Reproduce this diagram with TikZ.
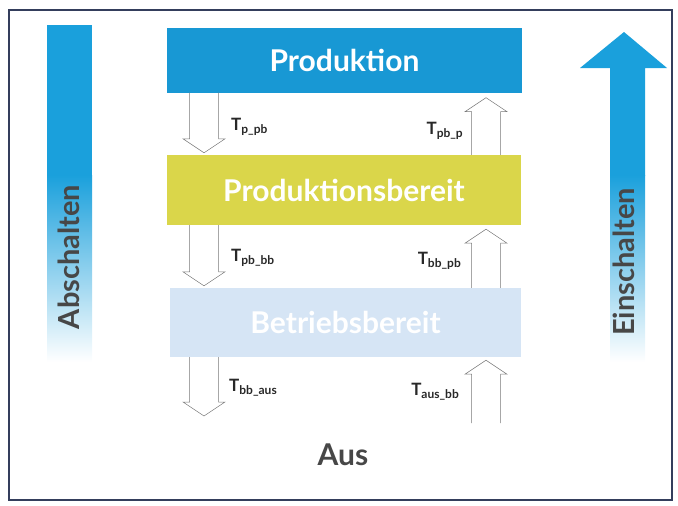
\documentclass[tikz,border=0pt]{standalone}
\usepackage{fontspec}
\setmainfont{Lato}
\usetikzlibrary{calc}

\definecolor{prodblue}{RGB}{24,152,212}
\definecolor{barblue}{RGB}{26,160,220}
\definecolor{pbyellow}{RGB}{218,214,74}
\definecolor{bblue}{RGB}{214,229,245}
\definecolor{framecol}{RGB}{52,62,92}
\definecolor{arrowgray}{RGB}{120,120,120}
\definecolor{labelgray}{RGB}{40,40,40}

% hollow block arrow from #1 (open end) to #2 (tip)
\newcommand{\hollowarrow}[2]{%
  \coordinate (hb) at ($(#2)!14pt!(#1)$);
  \draw[hollow] ($(#1)!14.5pt!90:(#2)$) -- ($(hb)!14.5pt!90:(#2)$) -- ($(hb)!21pt!90:(#2)$)
    -- (#2) -- ($(hb)!21pt!-90:(#2)$) -- ($(hb)!14.5pt!-90:(#2)$) -- ($(#1)!14.5pt!-90:(#2)$);
}

\begin{document}
\begin{tikzpicture}[x=1pt, y=-1pt,
  statebox/.style={minimum width=#1, inner sep=0pt, text=white, font=\fontsize{30}{32}\selectfont\bfseries},
  hollow/.style={draw=arrowgray, line width=0.5pt, line join=miter},
  tlabel/.style={text=labelgray, font=\fontsize{17}{19}\selectfont\bfseries, inner sep=1pt},
  sidetext/.style={rotate=90, text=black!72, font=\fontsize{29}{31}\selectfont\bfseries}]

  \useasboundingbox (0,0) rectangle (678,506);

  % -- Frame --
  \draw[framecol, line width=1.2pt] (9,10) rectangle (672,500);

  % -- Abschalten bar --
  \fill[barblue] (47,25) rectangle (92,176);
  \shade[top color=barblue, bottom color=white] (47,175) rectangle (92,362);
  \node[sidetext] (absch) at (69,257) {Abschalten};

  % -- Einschalten arrow --
  \fill[barblue] (624,32) -- (667,68) -- (645,68) -- (645,176) -- (610,176) -- (610,68) -- (580,68) -- cycle;
  \shade[top color=barblue, bottom color=white] (610,175) rectangle (645,362);
  \node[sidetext] (einsch) at (624,262) {Einschalten};

  % -- States --
  \node[statebox=355pt, minimum height=65pt, fill=prodblue] (prod) at (344.5,60) {Produktion};
  \node[statebox=354pt, minimum height=70pt, fill=pbyellow] (pbereit) at (344,190) {Produktionsbereit};
  \node[statebox=351pt, minimum height=69pt, fill=bblue] (bbereit) at (345.5,322.5) {Betriebsbereit};
  \node[text=black!72, font=\fontsize{30}{32}\selectfont\bfseries] (aus) at (343,455) {Aus};

  % -- Arrow columns --
  \coordinate (lx) at (204,0);
  \coordinate (rx) at (486,0);
  \coordinate (dn-end) at (204,416);
  \coordinate (up-start) at (486,423);

  % Abschalten steps
  \hollowarrow{prod.south -| lx}{$(pbereit.north -| lx)+(0,-2)$}
  \hollowarrow{pbereit.south -| lx}{$(bbereit.north -| lx)+(0,-2)$}
  \hollowarrow{bbereit.south -| lx}{dn-end}

  % Einschalten steps
  \hollowarrow{pbereit.north -| rx}{$(prod.south -| rx)+(0,5)$}
  \hollowarrow{bbereit.north -| rx}{$(pbereit.south -| rx)+(0,4)$}
  \hollowarrow{up-start}{$(bbereit.south -| rx)+(0,3)$}

  % Transition times
  \node[tlabel, anchor=west] (tppb) at (230,127) {T\raisebox{-0.3ex}{\fontsize{12}{14}\selectfont p\_pb}};
  \node[tlabel, anchor=east] (tpbp) at (464,131) {T\raisebox{-0.3ex}{\fontsize{12}{14}\selectfont pb\_p}};
  \node[tlabel, anchor=west] (tpbbb) at (230,258) {T\raisebox{-0.3ex}{\fontsize{12}{14}\selectfont pb\_bb}};
  \node[tlabel, anchor=east] (tbbpb) at (462,261) {T\raisebox{-0.3ex}{\fontsize{12}{14}\selectfont bb\_pb}};
  \node[tlabel, anchor=west] (tbbaus) at (228,388) {T\raisebox{-0.3ex}{\fontsize{12}{14}\selectfont bb\_aus}};
  \node[tlabel, anchor=east] (tausbb) at (460,392) {T\raisebox{-0.3ex}{\fontsize{12}{14}\selectfont aus\_bb}};

\end{tikzpicture}
\end{document}
